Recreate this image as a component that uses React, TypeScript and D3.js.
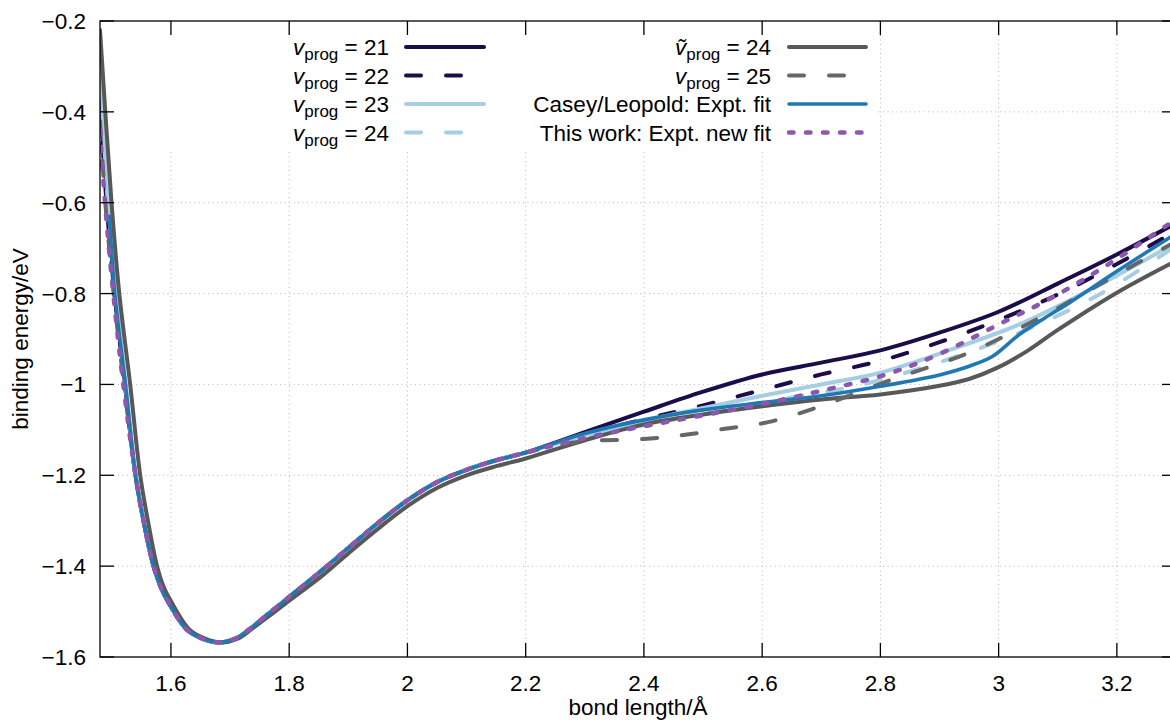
import React from 'react';
import * as d3 from 'd3';

// tick values and labels
const xTicks = [1.6, 1.8, 2.0, 2.2, 2.4, 2.6, 2.8, 3.0, 3.2];
const xTickLabels = ['1.6', '1.8', '2', '2.2', '2.4', '2.6', '2.8', '3', '3.2'];
const yTicks = [-0.2, -0.4, -0.6, -0.8, -1.0, -1.2, -1.4, -1.6];
const yTickLabels = ['−0.2', '−0.4', '−0.6', '−0.8', '−1', '−1.2', '−1.4', '−1.6'];

// the potential well where all fits except the grey solid one lie on top of each other
const wellR = [1.54, 1.5535, 1.5705, 1.584, 1.5926, 1.6254, 1.65, 1.68, 1.71, 1.7336, 1.76, 1.7955, 1.85, 1.9, 1.95, 2.0, 2.05, 2.1, 2.15, 2.2];
const wellE = [-1.2, -1.3, -1.4, -1.45, -1.4725, -1.538, -1.558, -1.568, -1.559, -1.538, -1.51, -1.4725, -1.415, -1.36, -1.305, -1.255, -1.215, -1.188, -1.167, -1.15];

// repulsive wall of each curve: [r, E]
const v21Wall = [[1.48, -0.35], [1.4925, -0.6], [1.5055, -0.8], [1.5225, -1.0]];
const v22Wall = [[1.48, -0.38], [1.491, -0.6], [1.5045, -0.8], [1.522, -1.0]];
const v23Wall = [[1.48, -0.28], [1.494, -0.6], [1.5065, -0.8], [1.5235, -1.0]];
const v24Wall = [[1.48, -0.31], [1.4935, -0.6], [1.506, -0.8], [1.523, -1.0]];
const v25Wall = [[1.48, -0.42], [1.489, -0.6], [1.503, -0.8], [1.5205, -1.0]];
const caseyWall = [[1.4958, -0.63], [1.505, -0.8], [1.523, -1.0]];
const newFitWall = [[1.48, -0.44], [1.4885, -0.6], [1.5025, -0.8], [1.5194, -1.0]];

// long range part of each curve
const v21Tail = [[2.3, -1.105], [2.4, -1.06], [2.5, -1.016], [2.6, -0.978], [2.7, -0.952], [2.8, -0.925], [2.9, -0.886], [3.0, -0.84], [3.1, -0.778], [3.2, -0.714], [3.3, -0.645]];
const v22Tail = [[2.3, -1.11], [2.4, -1.077], [2.5, -1.046], [2.6, -1.012], [2.7, -0.978], [2.8, -0.948], [2.9, -0.907], [3.0, -0.858], [3.1, -0.802], [3.2, -0.735], [3.3, -0.662]];
const v23Tail = [[2.3, -1.112], [2.4, -1.08], [2.5, -1.052], [2.6, -1.025], [2.7, -1.0], [2.8, -0.974], [2.92, -0.923], [3.035, -0.868], [3.15, -0.795], [3.3, -0.688]];
const v24Tail = [[2.3, -1.115], [2.4, -1.09], [2.5, -1.065], [2.6, -1.04], [2.7, -1.018], [2.77, -1.0], [2.9, -0.951], [3.04, -0.8835], [3.175, -0.7985], [3.3, -0.695]];
const v25Tail = [[2.25, -1.135], [2.3, -1.125], [2.4, -1.12], [2.47, -1.111], [2.54, -1.097], [2.61, -1.083], [2.69, -1.052], [2.82, -0.989], [2.95, -0.93], [3.08, -0.846], [3.21, -0.751], [3.3, -0.685]];
const caseyTail = [[2.3, -1.108], [2.4, -1.078], [2.5, -1.056], [2.6, -1.04], [2.7, -1.025], [2.8, -1.004], [2.9, -0.979], [2.95, -0.96], [2.99, -0.938], [3.035, -0.89], [3.08, -0.852], [3.12, -0.82], [3.2, -0.751], [3.3, -0.668]];
const newFitTail = [[2.3, -1.118], [2.4, -1.092], [2.5, -1.068], [2.6, -1.043], [2.7, -1.014], [2.81, -0.978], [2.9, -0.933], [3.0, -0.868], [3.09, -0.809], [3.19, -0.732], [3.3, -0.636]];

// the tilde curve is shifted a little everywhere
const vt24Curve = [[1.48, -0.22], [1.4995, -0.6], [1.5126, -0.8], [1.531, -1.0], [1.548, -1.2], [1.561, -1.3], [1.5765, -1.4], [1.589, -1.45], [1.598, -1.4725], [1.63, -1.538], [1.655, -1.558], [1.684, -1.568], [1.714, -1.559], [1.737, -1.538], [1.764, -1.512], [1.8, -1.476], [1.855, -1.422], [1.9, -1.372], [1.95, -1.318], [2.0, -1.268], [2.05, -1.228], [2.1, -1.2], [2.15, -1.18], [2.2, -1.163], [2.3, -1.123], [2.4, -1.088], [2.5, -1.066], [2.6, -1.048], [2.7, -1.033], [2.8, -1.022], [2.9, -1.003], [2.95, -0.988], [3.0, -0.962], [3.05, -0.925], [3.1, -0.88], [3.2, -0.798], [3.3, -0.728]];

const well = wellR.map((r, i) => [r, wellE[i]]);
const join = (wall, tail) => [...wall, ...well, ...tail];

const series = [
  { label: '21', tilde: false, color: '#1c0c4a', dash: null, width: 4, pts: join(v21Wall, v21Tail) },
  { label: '22', tilde: false, color: '#1c0c4a', dash: '15 25', width: 4, pts: join(v22Wall, v22Tail) },
  { label: '23', tilde: false, color: '#a6cee3', dash: null, width: 4, pts: join(v23Wall, v23Tail) },
  { label: '24', tilde: false, color: '#a6cee3', dash: '15 25', width: 4, pts: join(v24Wall, v24Tail) },
  { label: '24', tilde: true, color: '#585858', dash: null, width: 4, pts: vt24Curve },
  { label: '25', tilde: false, color: '#666666', dash: '15 25', width: 4, pts: join(v25Wall, v25Tail) },
  { label: 'Casey/Leopold: Expt. fit', tilde: false, color: '#1f78b4', dash: null, width: 3.6, pts: join(caseyWall, caseyTail) },
  { label: 'This work: Expt. new fit', tilde: false, color: '#8c58ad', dash: '4.5 12.5', width: 4.5, pts: join(newFitWall, newFitTail) },
];

const W = 1170;
const H = 721;
const L = 100, R = 1176, T = 21, B = 657;
const font = '"Liberation Sans", Arial, Helvetica, sans-serif';
const fs = 22.5;

export default function App() {
  const x = d3.scaleLinear().domain([1.48, 3.3]).range([L, R]);
  const y = d3.scaleLinear().domain([-1.6, -0.2]).range([B, T]);
  const line = d3.line().x(d => x(d[0])).y(d => y(d[1])).curve(d3.curveCatmullRom.alpha(0.5));

  const legendRows = [47, 75.5, 104, 132.5];
  const cols = [{ textEnd: 389, x1: 406, x2: 484 }, { textEnd: 771, x1: 789, x2: 866 }];

  const legendLabel = (s, tx, ty) => {
    if (s.label.length > 2) {
      return <text x={tx} y={ty} textAnchor="end">{s.label}</text>;
    }
    return (
      <text x={tx} y={ty} textAnchor="end">
        <tspan fontStyle="italic">{s.tilde ? 'ṽ' : 'v'}</tspan>
        <tspan fontSize={17} dy={5}>prog</tspan>
        <tspan dy={-5}>{' = ' + s.label}</tspan>
      </text>
    );
  };

  return (
    <svg width={W} height={H} style={{ position: 'absolute', left: 0, top: 0, background: '#fff' }} fontFamily={font}>
      <defs>
        <clipPath id="plot">
          <rect x={L} y={T} width={R - L} height={B - T} />
        </clipPath>
      </defs>
      <rect x={0} y={0} width={W} height={H} fill="#fff" />

      {/* grid */}
      <g stroke="#b8b8b8" strokeWidth={1} strokeDasharray="1 3.5">
        {xTicks.map(t => <line key={'gx' + t} x1={x(t)} x2={x(t)} y1={B} y2={T} />)}
        {yTicks.slice(1, -1).map(t => <line key={'gy' + t} x1={L} x2={R} y1={y(t)} y2={y(t)} />)}
      </g>

      {/* opaque key box */}
      <rect x={L} y={T} width={876 - L} height={152 - T} fill="#fff" />

      {/* curves */}
      <g clipPath="url(#plot)" fill="none" strokeLinecap="round" strokeLinejoin="round">
        {series.map((s, i) => (
          <path key={i} d={line(s.pts)} stroke={s.color} strokeWidth={s.width} strokeDasharray={s.dash || undefined} />
        ))}
      </g>

      {/* legend */}
      <g fontSize={fs} fill="#000">
        {series.map((s, i) => {
          const c = cols[Math.floor(i / 4)];
          const ry = legendRows[i % 4];
          return (
            <g key={'lg' + i}>
              {legendLabel(s, c.textEnd, ry + 8)}
              <line x1={c.x1} x2={c.x2} y1={ry} y2={ry} stroke={s.color} strokeWidth={s.width}
                strokeDasharray={s.dash || undefined} strokeLinecap="round" />
            </g>
          );
        })}
      </g>

      {/* border and ticks */}
      <g stroke="#000" strokeWidth={1.3} fill="none">
        <rect x={L} y={T} width={R - L} height={B - T} />
        {xTicks.map(t => (
          <g key={'tx' + t}>
            <line x1={x(t)} x2={x(t)} y1={B} y2={B - 14} />
            <line x1={x(t)} x2={x(t)} y1={T} y2={T + 14} />
          </g>
        ))}
        {yTicks.map(t => (
          <g key={'ty' + t}>
            <line x1={L} x2={L + 14} y1={y(t)} y2={y(t)} />
            <line x1={R} x2={R - 14} y1={y(t)} y2={y(t)} />
          </g>
        ))}
      </g>

      {/* tick labels */}
      <g fontSize={fs} fill="#000">
        {xTicks.map((t, i) => (
          <text key={'lx' + t} x={x(t)} y={691} textAnchor="middle">{xTickLabels[i]}</text>
        ))}
        {yTicks.map((t, i) => (
          <text key={'ly' + t} x={86} y={y(t) + 8} textAnchor="end">{yTickLabels[i]}</text>
        ))}
      </g>

      {/* axis titles */}
      <text x={(L + R) / 2} y={715} textAnchor="middle" fontSize={fs}>bond length/Å</text>
      <text transform={`translate(28,${(T + B) / 2}) rotate(-90)`} textAnchor="middle" fontSize={fs}>binding energy/eV</text>
    </svg>
  );
}
